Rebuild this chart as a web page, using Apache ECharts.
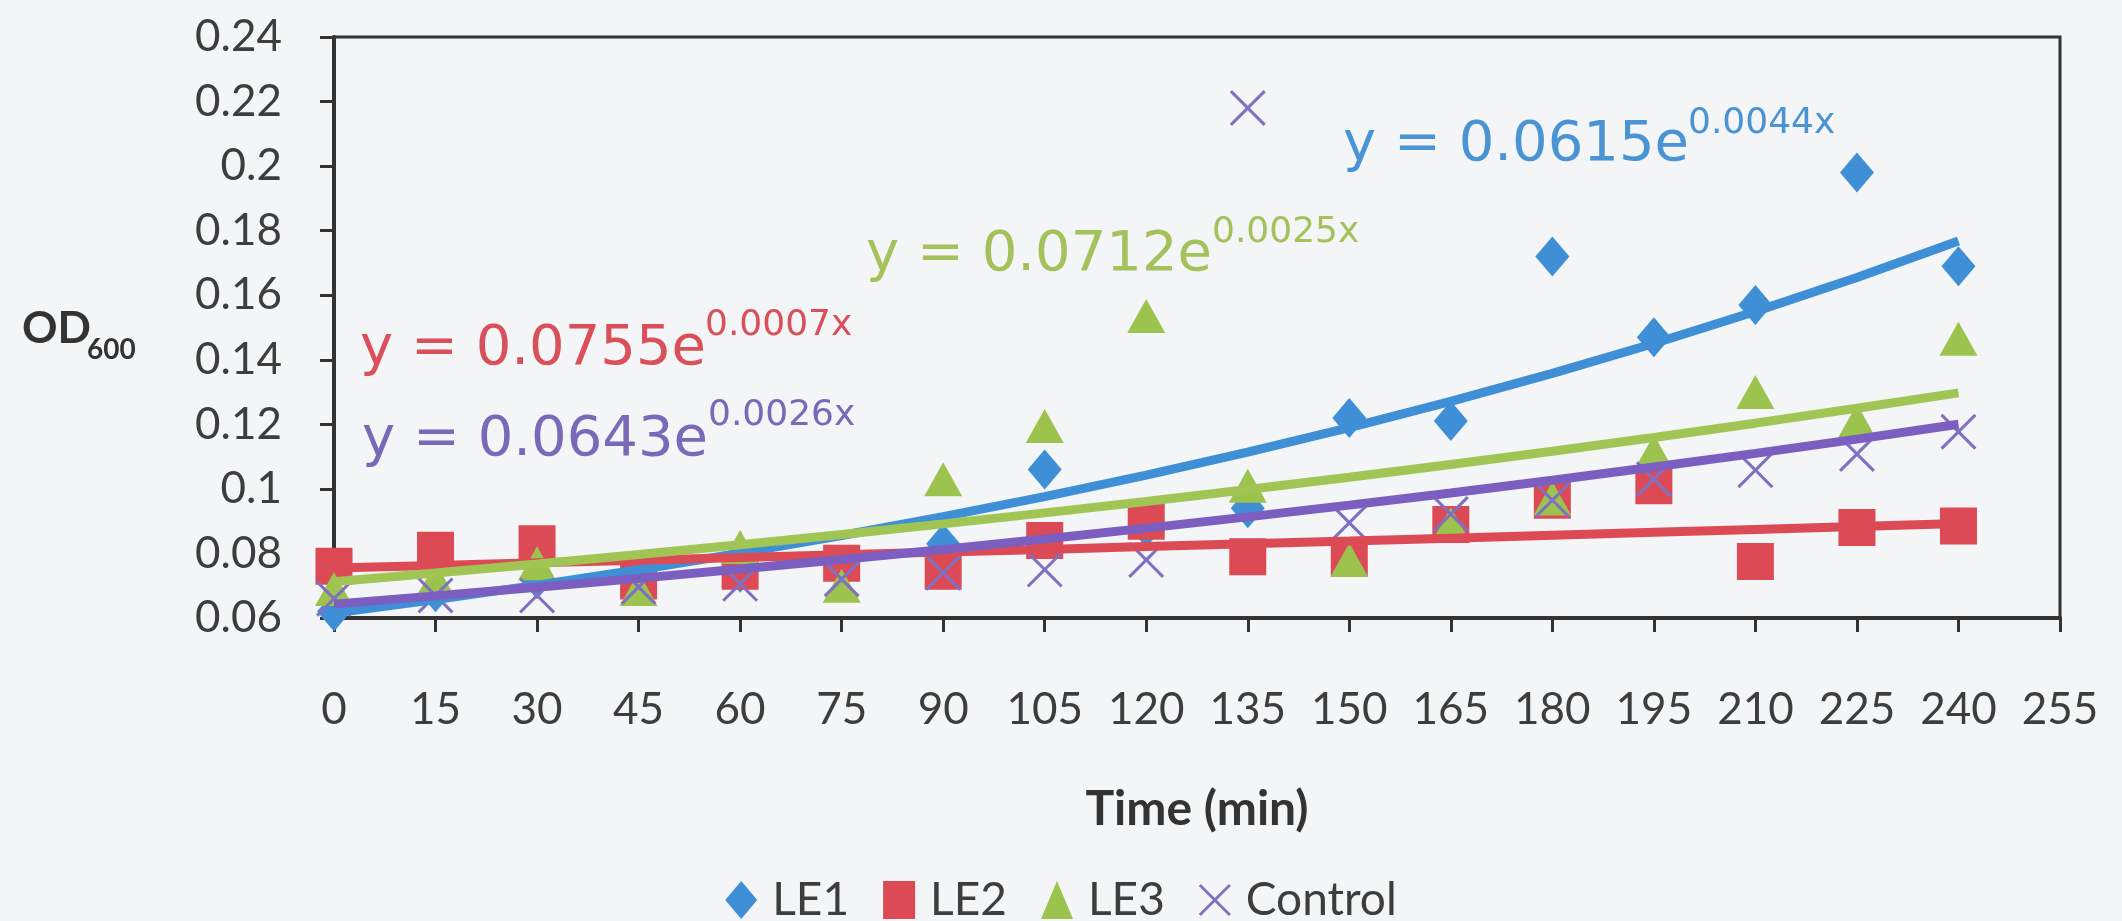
<!DOCTYPE html>
<html><head><meta charset="utf-8">
<script src="https://cdn.jsdelivr.net/npm/echarts@6/dist/echarts.min.js"></script>
<style>html,body{margin:0;padding:0;background:#f3f5f6;}#c{width:2122px;height:921px;}</style>
</head><body><div id="c"></div>
<script>
// ---- data ----
const times = [0,15,30,45,60,75,90,105,120,135,150,165,180,195,210,225,240];
const le1  = [0.062,0.068,0.072,0.070,0.074,0.075,0.083,0.106,0.088,0.094,0.122,0.121,0.172,0.147,0.157,0.198,0.169];
const le2  = [0.076,0.081,0.083,0.0715,0.0745,0.077,0.0745,0.084,0.090,0.079,0.0786,0.089,0.0965,0.101,0.0775,0.088,0.0885];
const le3  = [0.069,0.072,0.077,0.069,0.082,0.070,0.103,0.1195,0.1536,0.101,0.078,0.089,0.097,0.1115,0.130,0.121,0.1465];
const ctrl = [0.066,0.067,0.067,0.0696,0.0706,0.072,0.074,0.075,0.078,0.218,0.0895,0.0922,0.0965,0.103,0.1058,0.1108,0.1177];
const seriesNames = ['LE1','LE2','LE3','Control'];
// exponential trendlines y = a*e^(b*x), coefficients as printed on the chart
const trendA = [0.0615,0.0755,0.0712,0.0643];
const trendB = [0.0044,0.0007,0.0025,0.0026];
const eqMain = ['y = 0.0615e','y = 0.0755e','y = 0.0712e','y = 0.0643e'];
const eqSup  = ['0.0044x','0.0007x','0.0025x','0.0026x'];
const xTicks = {min:0, max:255, step:15};
const yTicks = {min:0.06, max:0.24, step:0.02};

const colors = ['#3f8fd6','#dc4b55','#9dc34f','#8070c2'];
const lineColors = ['#3f8fd6','#dc4b55','#a0c555','#7b5ec0'];
const textColors = ['#4a93d4','#d9505a','#a3c25c','#7a68b8'];
const xPath = 'path://M0,6 L6,0 L50,44 L94,0 L100,6 L56,50 L100,94 L94,100 L50,56 L6,100 L0,94 L44,50 Z';
const symbols = ['diamond','rect','triangle',xPath];
const symSizes = [[34,40],37,[38,34],36];
const values = [le1,le2,le3,ctrl];

const scatter = values.map((v,i)=>({
  name: seriesNames[i], type:'scatter', z:2,
  symbol: symbols[i], symbolSize: symSizes[i],
  itemStyle:{color: colors[i], opacity:1},
  data: times.map((t,j)=>[t,v[j]])
}));
const trends = trendA.map((a,i)=>({
  name: seriesNames[i]+' trend', type:'line', z:3, showSymbol:false, silent:true,
  lineStyle:{color: lineColors[i], width:9},
  data: times.map(t=>[t, a*Math.exp(trendB[i]*t)])
}));

const FONT='Lato';
const axisTxt='#3d3d3d';
const eqPos = [ // [mainX, mainY, supX, supY]
  [1343,145,1688,124],
  [360,349,705,326],
  [866,255,1212,233],
  [362,440,708,416]
];
const graphic = [];
eqPos.forEach((p,i)=>{
  graphic.push({type:'text', x:p[0], y:p[1], z:10, style:{text:eqMain[i], fill:textColors[i], fontSize:56, fontFamily:'DejaVu Sans', align:'left', verticalAlign:'middle', textAlign:'left', textVerticalAlign:'middle'}});
  graphic.push({type:'text', x:p[2], y:p[3], z:10, style:{text:eqSup[i], fill:textColors[i], fontSize:36, fontFamily:'DejaVu Sans', align:'left', verticalAlign:'middle', textAlign:'left', textVerticalAlign:'middle'}});
});
graphic.push({type:'text', x:22, y:329, style:{text:'OD', fill:'#333', fontSize:44, fontWeight:'bold', fontFamily:FONT, align:'left', verticalAlign:'middle', textAlign:'left', textVerticalAlign:'middle'}});
graphic.push({type:'text', x:87, y:350, style:{text:'600', fill:'#333', fontSize:28, fontWeight:'bold', fontFamily:FONT, align:'left', verticalAlign:'middle', textAlign:'left', textVerticalAlign:'middle'}});

const chart = echarts.init(document.getElementById('c'));
chart.setOption({
  backgroundColor:'#f3f5f6',
  animation:false,
  grid:{left:334, right:62, top:37, bottom:303, show:true, borderColor:'#333', borderWidth:3, backgroundColor:'transparent'},
  xAxis:{type:'value', min:xTicks.min, max:xTicks.max, interval:xTicks.step,
    name:'Time (min)', nameLocation:'middle', nameGap:168,
    nameTextStyle:{fontFamily:FONT, fontWeight:'bold', fontSize:48, color:'#333'},
    axisLine:{show:true, onZero:false, lineStyle:{color:'#333', width:4}},
    axisTick:{show:true, inside:false, length:14, lineStyle:{color:'#333', width:3}},
    axisLabel:{fontFamily:FONT, fontSize:44, color:axisTxt, margin:70},
    splitLine:{show:false}},
  yAxis:{type:'value', min:yTicks.min, max:yTicks.max, interval:yTicks.step,
    axisLine:{show:true, onZero:false, lineStyle:{color:'#333', width:4}},
    axisTick:{show:true, inside:false, length:14, lineStyle:{color:'#333', width:3}},
    axisLabel:{fontFamily:FONT, fontSize:44, color:axisTxt, margin:52, formatter:v=>String(+v.toFixed(2))},
    splitLine:{show:false}},
  legend:{data: seriesNames.map((n,i)=>({name:n, icon: symbols[i]})), left:'center', top:872,
    itemWidth:32, itemHeight:38, itemGap:34,
    textStyle:{fontFamily:FONT, fontSize:46, color:axisTxt, padding:[0,0,0,10]}},
  graphic: graphic,
  series: scatter.concat(trends)
});
</script></body></html>
